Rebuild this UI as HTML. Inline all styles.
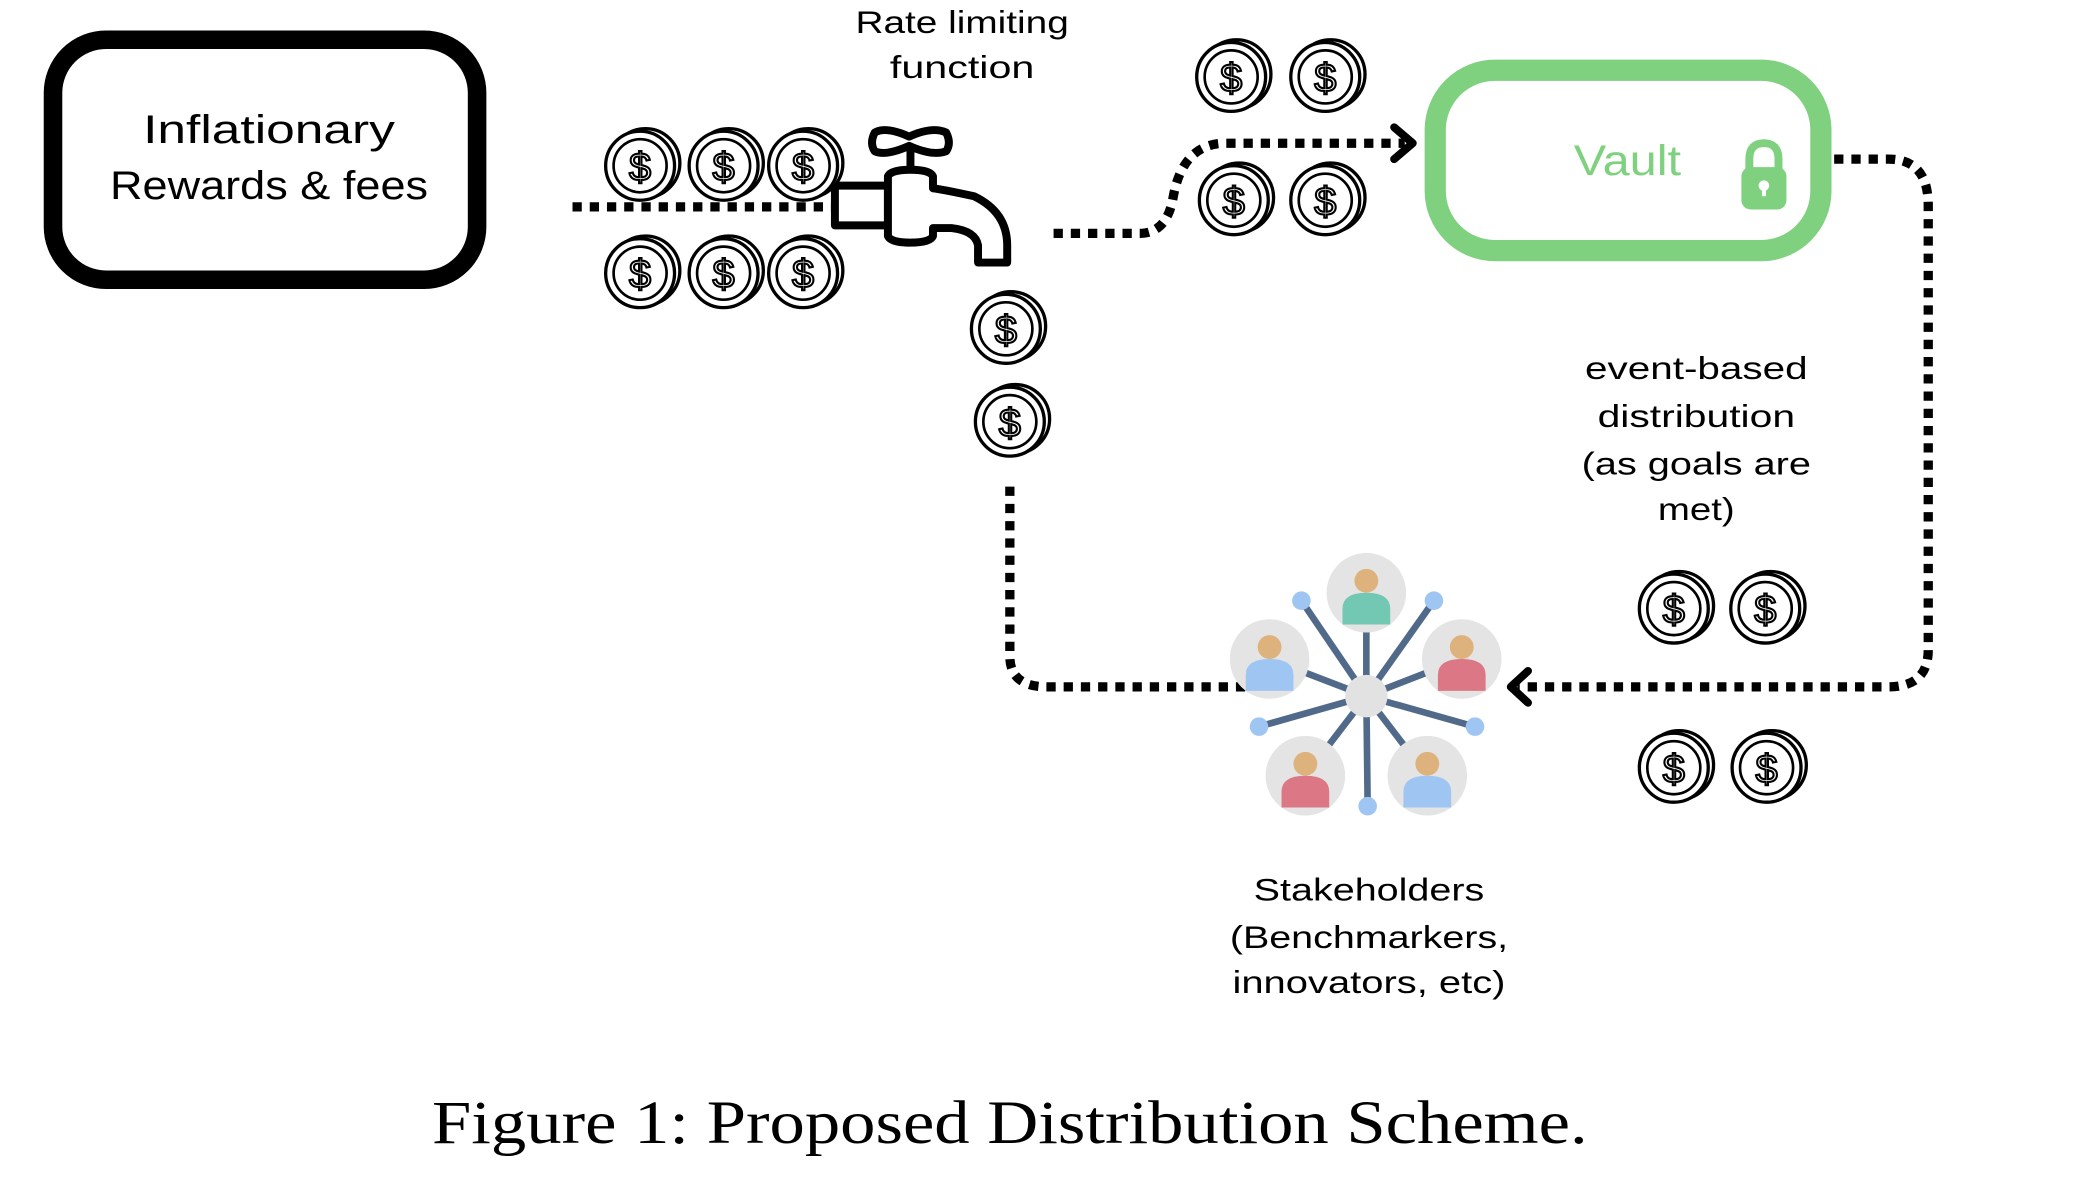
<!DOCTYPE html>
<html><head><meta charset="utf-8"><style>
html,body{margin:0;padding:0;background:#fff;width:2078px;height:1200px;overflow:hidden}
svg{display:block}
text{font-family:"Liberation Sans",sans-serif}
</style></head><body>
<svg width="2078" height="1200" viewBox="0 0 1568 905" preserveAspectRatio="none" xmlns="http://www.w3.org/2000/svg">
<!-- Left box -->
<rect x="40" y="30" width="320" height="181" rx="40" fill="#fff" stroke="#000" stroke-width="14"/>
<text x="203" y="108" font-size="30" text-anchor="middle" textLength="190" lengthAdjust="spacingAndGlyphs">Inflationary</text>
<text x="203" y="150" font-size="30" text-anchor="middle" textLength="240" lengthAdjust="spacingAndGlyphs">Rewards &amp; fees</text>
<!-- Rate limiting -->
<text x="726" y="25" font-size="24" text-anchor="middle" textLength="161" lengthAdjust="spacingAndGlyphs">Rate limiting</text>
<text x="726" y="59" font-size="24" text-anchor="middle" textLength="109" lengthAdjust="spacingAndGlyphs">function</text>

<g fill="none" stroke="#000" stroke-width="7" stroke-dasharray="7 6">
<path d="M432 156 H630"/>
<path d="M795 176 H860 Q880 176 885 150 Q892 108 925 108 H1060"/>
<path d="M1384 120 H1425 Q1455 120 1455 155 V490 Q1455 518 1425 518 H1145"/>
<path d="M762 367 V495 Q762 518 790 518 H945"/>
</g>
<g fill="none" stroke="#000" stroke-width="6" stroke-linecap="round" stroke-linejoin="round">
<path d="M1052 96 L1066 108 L1052 120"/>
<path d="M1153 506 L1140 518 L1153 530"/>
</g>

<!-- Tap -->
<g fill="#fff" stroke="#000" stroke-width="6" stroke-linejoin="round">
<path d="M660 100 Q668 95 686 103 Q704 95 714 100 Q718 108 714 114 Q704 118 686 110 Q668 118 660 114 Q656 108 660 100Z"/>
<line x1="687" y1="110" x2="687" y2="128"/>
<rect x="630" y="140" width="40" height="30"/>
<path d="M670 140 V133 Q672 128 687 128 Q702 128 704 133 V142 Q712 143 735 148 Q760 160 760 185 V198 H738 V185 Q736 174 718 172 L704 172 V178 Q702 183 687 183 Q672 183 670 178Z"/>
</g>

<!-- Vault -->
<rect x="1083" y="53" width="291" height="136" rx="45" fill="#fff" stroke="#7fd17f" stroke-width="16"/>
<text x="1228" y="132" font-size="32" fill="#7fd17f" text-anchor="middle" textLength="81" lengthAdjust="spacingAndGlyphs">Vault</text>
<path d="M1320 128 V120 Q1320 108 1331 108 Q1342 108 1342 120 V128" fill="none" stroke="#7fd17f" stroke-width="6"/>
<rect x="1314" y="126" width="34" height="32" rx="7" fill="#7fd17f"/>
<circle cx="1331" cy="140" r="4" fill="#fff"/><rect x="1329.5" y="140" width="3" height="8" fill="#fff"/>

<!-- Coins -->
<g fill="#fff" stroke="#000">
<g transform="translate(483,125)"><circle cx="4" cy="-2" r="26" stroke-width="2.5"/><circle r="26" stroke-width="2.5"/><circle r="20" fill="none" stroke-width="2"/><text y="11" font-size="30" text-anchor="middle" fill="none" stroke-width="1.6">$</text></g>
<g transform="translate(546,125)"><circle cx="4" cy="-2" r="26" stroke-width="2.5"/><circle r="26" stroke-width="2.5"/><circle r="20" fill="none" stroke-width="2"/><text y="11" font-size="30" text-anchor="middle" fill="none" stroke-width="1.6">$</text></g>
<g transform="translate(606,125)"><circle cx="4" cy="-2" r="26" stroke-width="2.5"/><circle r="26" stroke-width="2.5"/><circle r="20" fill="none" stroke-width="2"/><text y="11" font-size="30" text-anchor="middle" fill="none" stroke-width="1.6">$</text></g>
<g transform="translate(483,206)"><circle cx="4" cy="-2" r="26" stroke-width="2.5"/><circle r="26" stroke-width="2.5"/><circle r="20" fill="none" stroke-width="2"/><text y="11" font-size="30" text-anchor="middle" fill="none" stroke-width="1.6">$</text></g>
<g transform="translate(546,206)"><circle cx="4" cy="-2" r="26" stroke-width="2.5"/><circle r="26" stroke-width="2.5"/><circle r="20" fill="none" stroke-width="2"/><text y="11" font-size="30" text-anchor="middle" fill="none" stroke-width="1.6">$</text></g>
<g transform="translate(606,206)"><circle cx="4" cy="-2" r="26" stroke-width="2.5"/><circle r="26" stroke-width="2.5"/><circle r="20" fill="none" stroke-width="2"/><text y="11" font-size="30" text-anchor="middle" fill="none" stroke-width="1.6">$</text></g>
<g transform="translate(759,248)"><circle cx="4" cy="-2" r="26" stroke-width="2.5"/><circle r="26" stroke-width="2.5"/><circle r="20" fill="none" stroke-width="2"/><text y="11" font-size="30" text-anchor="middle" fill="none" stroke-width="1.6">$</text></g>
<g transform="translate(762,318)"><circle cx="4" cy="-2" r="26" stroke-width="2.5"/><circle r="26" stroke-width="2.5"/><circle r="20" fill="none" stroke-width="2"/><text y="11" font-size="30" text-anchor="middle" fill="none" stroke-width="1.6">$</text></g>
<g transform="translate(929,58)"><circle cx="4" cy="-2" r="26" stroke-width="2.5"/><circle r="26" stroke-width="2.5"/><circle r="20" fill="none" stroke-width="2"/><text y="11" font-size="30" text-anchor="middle" fill="none" stroke-width="1.6">$</text></g>
<g transform="translate(1000,58)"><circle cx="4" cy="-2" r="26" stroke-width="2.5"/><circle r="26" stroke-width="2.5"/><circle r="20" fill="none" stroke-width="2"/><text y="11" font-size="30" text-anchor="middle" fill="none" stroke-width="1.6">$</text></g>
<g transform="translate(931,151)"><circle cx="4" cy="-2" r="26" stroke-width="2.5"/><circle r="26" stroke-width="2.5"/><circle r="20" fill="none" stroke-width="2"/><text y="11" font-size="30" text-anchor="middle" fill="none" stroke-width="1.6">$</text></g>
<g transform="translate(1000,151)"><circle cx="4" cy="-2" r="26" stroke-width="2.5"/><circle r="26" stroke-width="2.5"/><circle r="20" fill="none" stroke-width="2"/><text y="11" font-size="30" text-anchor="middle" fill="none" stroke-width="1.6">$</text></g>
<g transform="translate(1263,459)"><circle cx="4" cy="-2" r="26" stroke-width="2.5"/><circle r="26" stroke-width="2.5"/><circle r="20" fill="none" stroke-width="2"/><text y="11" font-size="30" text-anchor="middle" fill="none" stroke-width="1.6">$</text></g>
<g transform="translate(1332,459)"><circle cx="4" cy="-2" r="26" stroke-width="2.5"/><circle r="26" stroke-width="2.5"/><circle r="20" fill="none" stroke-width="2"/><text y="11" font-size="30" text-anchor="middle" fill="none" stroke-width="1.6">$</text></g>
<g transform="translate(1263,579)"><circle cx="4" cy="-2" r="26" stroke-width="2.5"/><circle r="26" stroke-width="2.5"/><circle r="20" fill="none" stroke-width="2"/><text y="11" font-size="30" text-anchor="middle" fill="none" stroke-width="1.6">$</text></g>
<g transform="translate(1333,579)"><circle cx="4" cy="-2" r="26" stroke-width="2.5"/><circle r="26" stroke-width="2.5"/><circle r="20" fill="none" stroke-width="2"/><text y="11" font-size="30" text-anchor="middle" fill="none" stroke-width="1.6">$</text></g>
</g>

<!-- event text -->
<g font-size="24" text-anchor="middle">
<text x="1280" y="286" textLength="168" lengthAdjust="spacingAndGlyphs">event-based</text>
<text x="1280" y="322" textLength="149" lengthAdjust="spacingAndGlyphs">distribution</text>
<text x="1280" y="358" textLength="173" lengthAdjust="spacingAndGlyphs">(as goals are</text>
<text x="1280" y="392" textLength="58" lengthAdjust="spacingAndGlyphs">met)</text>
</g>

<!-- Stakeholders network -->
<g stroke="#516a8a" stroke-width="5">
<line x1="1031" y1="525" x2="982" y2="453"/><line x1="1031" y1="525" x2="1082" y2="453"/>
<line x1="1031" y1="525" x2="950" y2="548"/><line x1="1031" y1="525" x2="1113" y2="548"/>
<line x1="1031" y1="525" x2="1032" y2="608"/><line x1="1031" y1="525" x2="1031" y2="447"/>
<line x1="1031" y1="525" x2="958" y2="497"/><line x1="1031" y1="525" x2="1103" y2="497"/>
<line x1="1031" y1="525" x2="985" y2="585"/><line x1="1031" y1="525" x2="1077" y2="585"/>
</g>
<g fill="#9fc6f3"><circle cx="982" cy="453" r="7"/><circle cx="1082" cy="453" r="7"/><circle cx="950" cy="548" r="7"/><circle cx="1113" cy="548" r="7"/><circle cx="1032" cy="608" r="7"/></g>
<circle cx="1031" cy="525" r="16" fill="#e2e2e2"/>
<g>
<g transform="translate(1031,447)"><circle r="30" fill="#e4e4e4"/><circle cy="-9" r="9" fill="#deb27c"/><path d="M-18 24 V12 Q-18 0 0 0 Q18 0 18 12 V24Z" fill="#73c8b4"/></g>
<g transform="translate(958,497)"><circle r="30" fill="#e4e4e4"/><circle cy="-9" r="9" fill="#deb27c"/><path d="M-18 24 V12 Q-18 0 0 0 Q18 0 18 12 V24Z" fill="#9fc6f3"/></g>
<g transform="translate(1103,497)"><circle r="30" fill="#e4e4e4"/><circle cy="-9" r="9" fill="#deb27c"/><path d="M-18 24 V12 Q-18 0 0 0 Q18 0 18 12 V24Z" fill="#dc7785"/></g>
<g transform="translate(985,585)"><circle r="30" fill="#e4e4e4"/><circle cy="-9" r="9" fill="#deb27c"/><path d="M-18 24 V12 Q-18 0 0 0 Q18 0 18 12 V24Z" fill="#dc7785"/></g>
<g transform="translate(1077,585)"><circle r="30" fill="#e4e4e4"/><circle cy="-9" r="9" fill="#deb27c"/><path d="M-18 24 V12 Q-18 0 0 0 Q18 0 18 12 V24Z" fill="#9fc6f3"/></g>
</g>

<g font-size="24" text-anchor="middle">
<text x="1033" y="679" textLength="174" lengthAdjust="spacingAndGlyphs">Stakeholders</text>
<text x="1033" y="715" textLength="210" lengthAdjust="spacingAndGlyphs">(Benchmarkers,</text>
<text x="1033" y="749" textLength="206" lengthAdjust="spacingAndGlyphs">innovators, etc)</text>
</g>

<text x="762" y="862" font-size="46" text-anchor="middle" textLength="872" lengthAdjust="spacingAndGlyphs" style="font-family:'Liberation Serif',serif">Figure 1: Proposed Distribution Scheme.</text>
</svg>
</body></html>
